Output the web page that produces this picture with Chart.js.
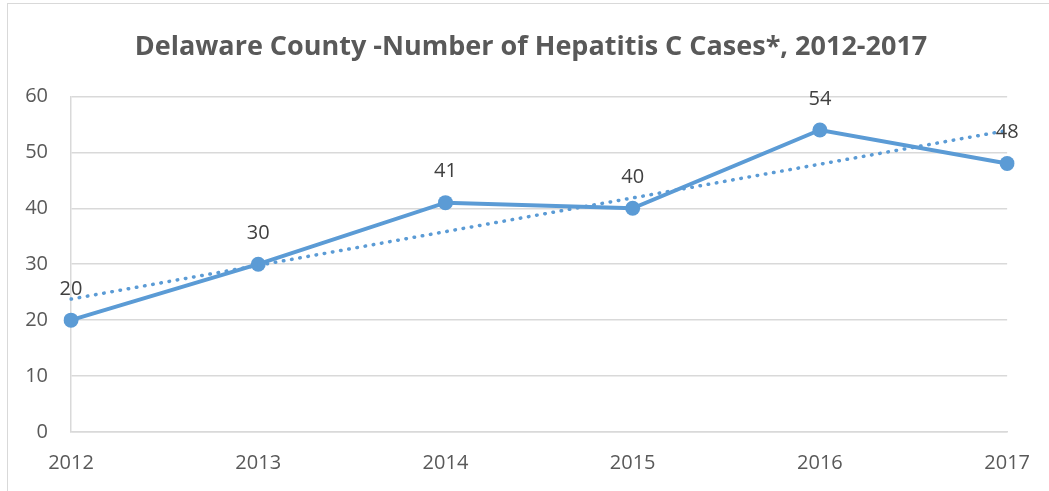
<!DOCTYPE html>
<html>
<head>
<meta charset="utf-8">
<script src="https://cdn.jsdelivr.net/npm/chart.js@4"></script>
<style>
  html, body { margin: 0; padding: 0; background: #fff; overflow: hidden; }
  #wrap { position: relative; width: 1049px; height: 491px; overflow: hidden; }
  #frame { position: absolute; left: 7px; top: 3px; width: 1100px; height: 500px; border: 1px solid #d9d9d9; box-sizing: border-box; }
  #myChart { position: absolute; left: 0; top: 0; }
</style>
</head>
<body>
<div id="wrap">
  <div id="frame"></div>
  <canvas id="myChart" width="1049" height="491"></canvas>
</div>
<script>
var years = ["2012", "2013", "2014", "2015", "2016", "2017"];
var cases = [20, 30, 41, 40, 54, 48];
var yTicks = [0, 10, 20, 30, 40, 50, 60];

// linear trendline (least squares) over the yearly counts
var n = cases.length, sx = 0, sy = 0, sxy = 0, sxx = 0;
cases.forEach(function (v, i) { sx += i; sy += v; sxy += i * v; sxx += i * i; });
var slope = (n * sxy - sx * sy) / (n * sxx - sx * sx);
var intercept = (sy - slope * sx) / n;
var trend = cases.map(function (v, i) { return intercept + slope * i; });

var blue = '#5B9BD5';
var grey = '#595959';
var font = "'Open Sans', 'Liberation Sans', sans-serif";

// value labels above each point
var valueLabels = {
    id: 'valueLabels',
    afterDatasetsDraw: function (chart) {
        var ctx = chart.ctx;
        var meta = chart.getDatasetMeta(0);
        ctx.save();
        ctx.font = '20px ' + font;
        ctx.fillStyle = '#404040';
        ctx.textAlign = 'center';
        ctx.textBaseline = 'middle';
        meta.data.forEach(function (pt, i) {
            ctx.fillText(String(cases[i]), pt.x, pt.y - 31);
        });
        ctx.restore();
    }
};

// centre the title on the whole frame rather than on the padded box
var titleSpan = {
    id: 'titleSpan',
    afterLayout: function (chart) {
        if (chart.titleBlock) {
            chart.titleBlock.left = 13;
            chart.titleBlock.right = chart.width;
        }
    }
};

var ctx = document.getElementById("myChart");
var myChart = new Chart(ctx, {
    type: 'line',
    data: {
        labels: years,
        datasets: [{
            label: 'Cases',
            data: cases,
            borderColor: blue,
            backgroundColor: blue,
            borderWidth: 4,
            pointRadius: 7.5,
            pointBorderWidth: 0,
            pointBackgroundColor: blue,
            tension: 0,
            order: 1
        }, {
            label: 'Trend',
            data: trend,
            borderColor: blue,
            borderWidth: 3.5,
            borderDash: [0.5, 7.8],
            borderCapStyle: 'round',
            pointRadius: 0,
            tension: 0,
            order: 0
        }]
    },
    plugins: [valueLabels, titleSpan],
    options: {
        responsive: false,
        animation: false,
        layout: { padding: { left: 0, right: 41, top: 0, bottom: 0 } },
        plugins: {
            legend: { display: false },
            tooltip: { enabled: false },
            title: {
                display: true,
                text: 'Delaware County -Number of Hepatitis C Cases*, 2012-2017',
                color: grey,
                font: { family: font, size: 27, weight: 'bold' },
                padding: { top: 31, bottom: 33 }
            }
        },
        scales: {
            x: {
                offset: false,
                afterFit: function (scale) { scale.height = 59; },
                grid: { display: false, drawTicks: false },
                border: { display: true, color: '#d9d9d9', width: 1.5 },
                ticks: { color: grey, font: { family: font, size: 20 }, padding: 19, maxRotation: 0 }
            },
            y: {
                min: 0,
                max: 60,
                afterFit: function (scale) { scale.width = 71; },
                afterBuildTicks: function (scale) {
                    scale.ticks = yTicks.map(function (v) { return { value: v }; });
                },
                grid: { color: '#d9d9d9', lineWidth: 1.5, drawTicks: false },
                border: { display: true, color: '#d9d9d9', width: 1.5 },
                ticks: { color: grey, font: { family: font, size: 20 }, padding: 23 }
            }
        }
    }
});
</script>
</body>
</html>
